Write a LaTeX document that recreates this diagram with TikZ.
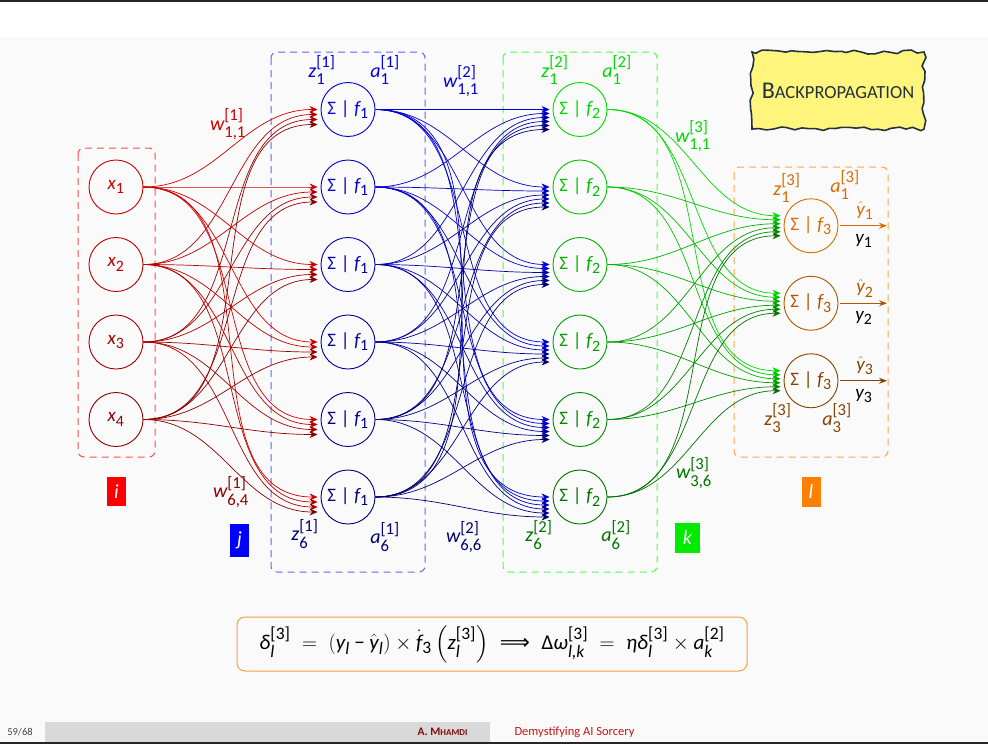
\documentclass[tikz,border=0pt]{standalone}
\usepackage{amsmath}
\usepackage{fontspec}
\setmainfont{Carlito}
\newfontfamily\djv{DejaVu Sans}
\usepackage[italic]{mathastext}
\usetikzlibrary{arrows.meta,calc,decorations.pathmorphing}
\newcommand{\Sg}{\text{\upshape Σ}}
\newcommand{\dlt}{\text{\itshape δ}}
\newcommand{\Dlt}{\text{\upshape Δ}}
\newcommand{\omg}{\text{\itshape ω}}
\newcommand{\etag}{\text{\itshape η}}
\newcommand{\mns}{\mathbin{\text{−}}}
\newcommand{\impl}{\mathrel{\text{\djv ⟹}}}
% letter with text subscript and bracketed superscript
\newcommand{\lsb}[3]{#1_{\text{#2}}^{\text{[#3]}}}
\newcommand{\tx}[1]{\text{#1}}
\definecolor{bgc}{RGB}{250,250,250}
\definecolor{barc}{RGB}{217,217,217}
\definecolor{bpfill}{RGB}{255,245,125}
\definecolor{bpline}{RGB}{35,50,60}
\definecolor{fboxc}{RGB}{245,160,70}
\definecolor{idxgreen}{RGB}{0,235,0}
\definecolor{idxorange}{RGB}{255,128,0}
\definecolor{footc}{RGB}{64,64,64}
\definecolor{mhamdi}{RGB}{128,10,10}
\definecolor{demyst}{RGB}{200,20,20}
\colorlet{cIn1}{red!82!black}
\colorlet{cIn2}{red!73!black}
\colorlet{cIn3}{red!64!black}
\colorlet{cIn4}{red!55!black}
\colorlet{cHa1}{blue!85!black}
\colorlet{cHa2}{blue!77!black}
\colorlet{cHa3}{blue!69!black}
\colorlet{cHa4}{blue!61!black}
\colorlet{cHa5}{blue!53!black}
\colorlet{cHa6}{blue!45!black}
\colorlet{cHb1}{green!85!black}
\colorlet{cHb2}{green!77!black}
\colorlet{cHb3}{green!69!black}
\colorlet{cHb4}{green!61!black}
\colorlet{cHb5}{green!53!black}
\colorlet{cHb6}{green!45!black}
\colorlet{cOut1}{orange!85!black}
\colorlet{cOut2}{orange!68!black}
\colorlet{cOut3}{orange!52!black}
\tikzset{
  neuron/.style={circle, draw, line width=0.9pt, minimum size=54pt, inner sep=0pt, font=\fontsize{19}{22}\selectfont},
  conn/.style={line width=0.7pt, -{Stealth[length=8pt,width=7pt]}},
  laybox/.style={dash pattern=on 7pt off 5pt, line width=1pt, rounded corners=6pt},
  idx/.style={text=white, minimum width=19pt, minimum height=29pt, inner sep=0pt},
  lab/.style={inner sep=0pt},
}
\begin{document}
\begin{tikzpicture}[x=1pt,y=-1pt,font=\fontsize{20}{24}\selectfont]
\pgfmathsetseed{7}
% background
\fill[white] (0,0) rectangle (988,37);
\fill[bgc] (0,37) rectangle (988,742);
\fill[black!85] (0,0) rectangle (988,1.5);
\fill[black!85] (0,742) rectangle (988,744);
\fill[barc] (45,722) rectangle (490,742);
\useasboundingbox (0,0) rectangle (988,744);

% layer boxes
\draw[laybox, red!70] (78,148) rectangle (155,457);
\draw[laybox, blue!60] (271,52) rectangle (425,572);
\draw[laybox, green!70] (503,52) rectangle (657,572);
\draw[laybox, orange!70] (734,167) rectangle (888,457);

% nodes
\foreach \i in {1,...,4}{
  \node[neuron, draw=cIn\i, text=cIn\i] (in\i) at (116,{109.5+77.5*\i}) {$x_{\tx{\i}}$};
}
\foreach \i in {1,...,6}{
  \node[neuron, draw=cHa\i, text=cHa\i] (ha\i) at (348,{109.5+77.5*(\i-1)}) {$\Sg\mid f_{\tx{1}}$};
  \node[neuron, draw=cHb\i, text=cHb\i] (hb\i) at (580,{109.5+77.5*(\i-1)}) {$\Sg\mid f_{\tx{2}}$};
}
\foreach \i in {1,2,3}{
  \node[neuron, draw=cOut\i, text=cOut\i] (out\i) at (811,{225.75+77.5*(\i-1)}) {$\Sg\mid f_{\tx{3}}$};
}

% connections
\foreach \s in {1,...,4}{\foreach \t in {1,...,6}{
  \draw[conn, color=cIn\s] (in\s.east) to[out=0,in=180] ($(ha\t.west)+(-3,{(\s-1)*5})$);
}}
\foreach \s in {1,...,6}{\foreach \t in {1,...,6}{
  \draw[conn, color=cHa\s] (ha\s.east) to[out=0,in=180] ($(hb\t.west)+(-3,{(\s-1)*4})$);
}}
\foreach \s in {1,...,6}{\foreach \t in {1,2,3}{
  \draw[conn, color=cHb\s] (hb\s.east) to[out=0,in=180] ($(out\t.west)+(-3,{(\s-3.5)*4})$);
}}

% outputs
\foreach \i in {1,2,3}{
  \coordinate (o\i) at (887,{225.75+77.5*(\i-1)});
  \draw[line width=1pt, color=cOut\i, -{Stealth[length=8pt,width=6pt]}] (out\i.east) ++(2,0) -- (o\i);
  \node[lab, text=cOut\i, font=\fontsize{19}{22}\selectfont] (yh\i) at (865,{225.75+77.5*(\i-1)-15}) {$\hat{y}_{\tx{\i}}$};
  \node[lab, font=\fontsize{19}{22}\selectfont] (yy\i) at (864,{225.75+77.5*(\i-1)+15}) {$y_{\tx{\i}}$};
}

% z / a labels
\node[lab, text=cHa1] (z11) at (322,70) {$\lsb{z}{1}{1}$};
\node[lab, text=cHa1] (a11) at (385,70) {$\lsb{a}{1}{1}$};
\node[lab, text=cHa6] (z16) at (305,534) {$\lsb{z}{6}{1}$};
\node[lab, text=cHa6] (a16) at (385,537) {$\lsb{a}{6}{1}$};
\node[lab, text=cHb1] (z21) at (555,70) {$\lsb{z}{1}{2}$};
\node[lab, text=cHb1] (a21) at (617,70) {$\lsb{a}{1}{2}$};
\node[lab, text=cHb6] (z26) at (539,535) {$\lsb{z}{6}{2}$};
\node[lab, text=cHb6] (a26) at (616,535) {$\lsb{a}{6}{2}$};
\node[lab, text=cOut1] (z31) at (787,188) {$\lsb{z}{1}{3}$};
\node[lab, text=cOut1] (a31) at (845,185) {$\lsb{a}{1}{3}$};
\node[lab, text=cOut3] (z33) at (778,418) {$\lsb{z}{3}{3}$};
\node[lab, text=cOut3] (a33) at (837,418) {$\lsb{a}{3}{3}$};

% weight labels
\node[lab, text=cIn1] (w1a) at (228,124) {$\lsb{w}{1,1}{1}$};
\node[lab, text=cIn4] (w1b) at (231,492) {$\lsb{w}{6,4}{1}$};
\node[lab, text=cHa1] (w2a) at (461,81) {$\lsb{w}{1,1}{2}$};
\node[lab, text=cHa6] (w2b) at (464,537) {$\lsb{w}{6,6}{2}$};
\node[lab, text=cHb1] (w3a) at (693,136) {$\lsb{w}{1,1}{3}$};
\node[lab, text=cHb6] (w3b) at (694,473) {$\lsb{w}{3,6}{3}$};

% index boxes
\node[idx, fill=red] (ii) at (116.5,491.5) {$i$};
\node[idx, fill=blue, minimum height=33pt] (ij) at (239.5,540) {$j$};
\node[idx, fill=idxgreen, minimum width=25pt, minimum height=30pt] (ik) at (687.5,538) {$k$};
\node[idx, fill=idxorange, minimum height=30pt] (il) at (811,492) {$l$};

% title box
\node[draw=bpline, fill=bpfill, line width=1.6pt, minimum width=172pt, minimum height=77pt,
      decorate, decoration={random steps, segment length=7pt, amplitude=2pt}, text=bpline]
  (bp) at (838,90.5) {{\fontsize{24}{26}\selectfont B}{\fontsize{18.5}{22}\selectfont ACKPROPAGATION}};

% formula
\node[draw=fboxc, line width=1pt, rounded corners=8pt, fill=bgc, minimum width=510pt, minimum height=54pt, inner xsep=6pt, font=\fontsize{21}{25}\selectfont]
  (fm) at (492,644)
  {$\dlt_{\textit{l}}^{\tx{[3]}} \;=\; (y_{\textit{l}} \mns \hat{y}_{\textit{l}}) \times \dot{f}_{\tx{3}} \left(z_{\textit{l}}^{\tx{[3]}}\right) \;\impl\; \Dlt\omg_{\textit{l,k}}^{\tx{[3]}} \;=\; \etag\dlt_{\textit{l}}^{\tx{[3]}} \times a_{\textit{k}}^{\tx{[2]}}$};

% footer
\node[text=footc, font=\fontsize{10.5}{12}\selectfont] (pg) at (20,732) {59/68};
\node[anchor=east, text=mhamdi, font=\fontsize{11.5}{12}\selectfont\bfseries] (au) at (471,732) {A. M{\fontsize{9}{10}\selectfont HAMDI}};
\node[anchor=west, text=demyst, font=\fontsize{12.5}{14}\selectfont] (ti) at (511,732) {Demystifying AI Sorcery};
\end{tikzpicture}
\end{document}
